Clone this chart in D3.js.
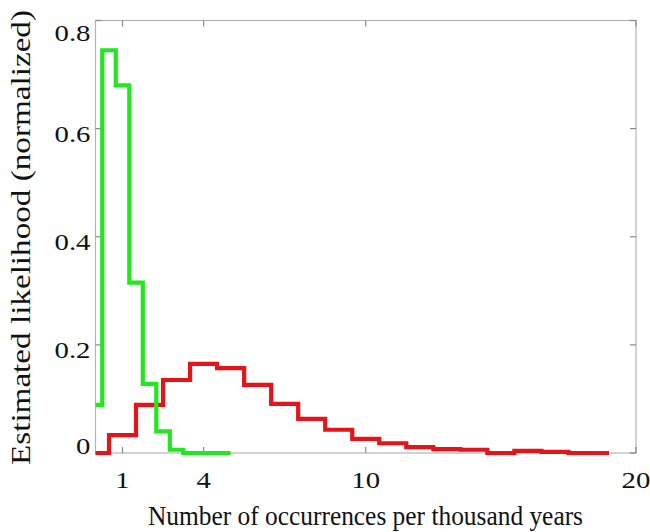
<!DOCTYPE html>
<html>
<head>
<meta charset="utf-8">
<script src="https://cdn.jsdelivr.net/npm/d3@7"></script>
<style>
  html, body { margin: 0; padding: 0; background: #fff; }
  svg { display: block; }
  text { font-family: "Liberation Serif", "Times New Roman", serif; fill: #111; }
</style>
</head>
<body>
<svg id="chart" width="650" height="532"></svg>
<script>
// Histogram bin centres (occurrences per thousand years) and normalized likelihoods
const greenCenters = [0, 0.5, 1, 1.5, 2, 2.5, 3, 3.5, 4, 4.5, 5];
const greenValues  = [0.089, 0.745, 0.68, 0.315, 0.128, 0.04, 0.006, 0, 0, 0, 0];

const redCenters = [0, 1, 2, 3, 4, 5, 6, 7, 8, 9, 10, 11, 12, 13, 14, 15, 16, 17, 18, 19];
const redValues  = [0, 0.033, 0.089, 0.135, 0.165, 0.157, 0.126, 0.091, 0.063, 0.043,
                    0.026, 0.018, 0.011, 0.007, 0.006, 0, 0.004, 0.002, 0, 0];

const xTicks = [1, 4, 10, 20];
const yTicks = [0, 0.2, 0.4, 0.6, 0.8];
const yTickLabels = ["0", "0.2", "0.4", "0.6", "0.8"];

const xTitle = "Number of occurrences per thousand years";
const yTitle = "Estimated likelihood (normalized)";

const svg = d3.select("#chart");
const plotL = 95.5, plotR = 636, plotT = 20.5, plotB = 453;

const x = d3.scaleLinear().domain([0, 20]).range([plotL, plotR]);
const y = d3.scaleLinear().domain([0, 0.8]).range([plotB, plotT]);

// frame
svg.append("rect")
  .attr("x", plotL).attr("y", plotT)
  .attr("width", plotR - plotL).attr("height", plotB - plotT)
  .attr("fill", "none").attr("stroke", "#b4b4b4").attr("stroke-width", 1.2);

// inward ticks on all four sides
const tickLen = 6;
const tickColor = "#8a8a8a";
const tg = svg.append("g").attr("stroke", tickColor).attr("stroke-width", 1.2);
xTicks.forEach(t => {
  tg.append("line").attr("x1", x(t)).attr("x2", x(t)).attr("y1", plotB).attr("y2", plotB - tickLen);
  tg.append("line").attr("x1", x(t)).attr("x2", x(t)).attr("y1", plotT).attr("y2", plotT + tickLen);
});
yTicks.forEach(t => {
  tg.append("line").attr("x1", plotL).attr("x2", plotL + tickLen).attr("y1", y(t)).attr("y2", y(t));
  tg.append("line").attr("x1", plotR).attr("x2", plotR - tickLen).attr("y1", y(t)).attr("y2", y(t));
});

// tick labels (edge labels nudged inside the frame's extent)
const tickFont = 24;
xTicks.forEach(t => {
  svg.append("text")
    .attr("transform", `translate(${x(t)},488) scale(1.2,1)`)
    .attr("text-anchor", "middle")
    .attr("font-size", tickFont)
    .text(t);
});
const yDy = { 0: 1, 0.8: 20 };
yTicks.forEach((t, i) => {
  const dy = (t in yDy) ? yDy[t] : 13;
  svg.append("text")
    .attr("transform", `translate(90.5,${y(t) + dy}) scale(1.2,1)`)
    .attr("text-anchor", "end")
    .attr("font-size", tickFont)
    .text(yTickLabels[i]);
});

// axis titles
svg.append("text")
  .attr("x", 365.5).attr("y", 525)
  .attr("text-anchor", "middle")
  .attr("font-size", 28)
  .attr("textLength", 435).attr("lengthAdjust", "spacingAndGlyphs")
  .text(xTitle);

svg.append("text")
  .attr("transform", "translate(30,237.5) rotate(-90)")
  .attr("text-anchor", "middle")
  .attr("font-size", 28)
  .attr("textLength", 455).attr("lengthAdjust", "spacingAndGlyphs")
  .text(yTitle);

// step histograms
const stairs = d3.line()
  .x(d => x(d[0]))
  .y(d => y(d[1]))
  .curve(d3.curveStep);

svg.append("path")
  .datum(d3.zip(redCenters, redValues))
  .attr("d", stairs)
  .attr("fill", "none")
  .attr("stroke", "#e5141a")
  .attr("stroke-width", 4.2)
  .attr("stroke-linejoin", "miter");

svg.append("path")
  .datum(d3.zip(greenCenters, greenValues))
  .attr("d", stairs)
  .attr("fill", "none")
  .attr("stroke", "#22e61e")
  .attr("stroke-width", 4.2)
  .attr("stroke-linejoin", "miter");
</script>
</body>
</html>
